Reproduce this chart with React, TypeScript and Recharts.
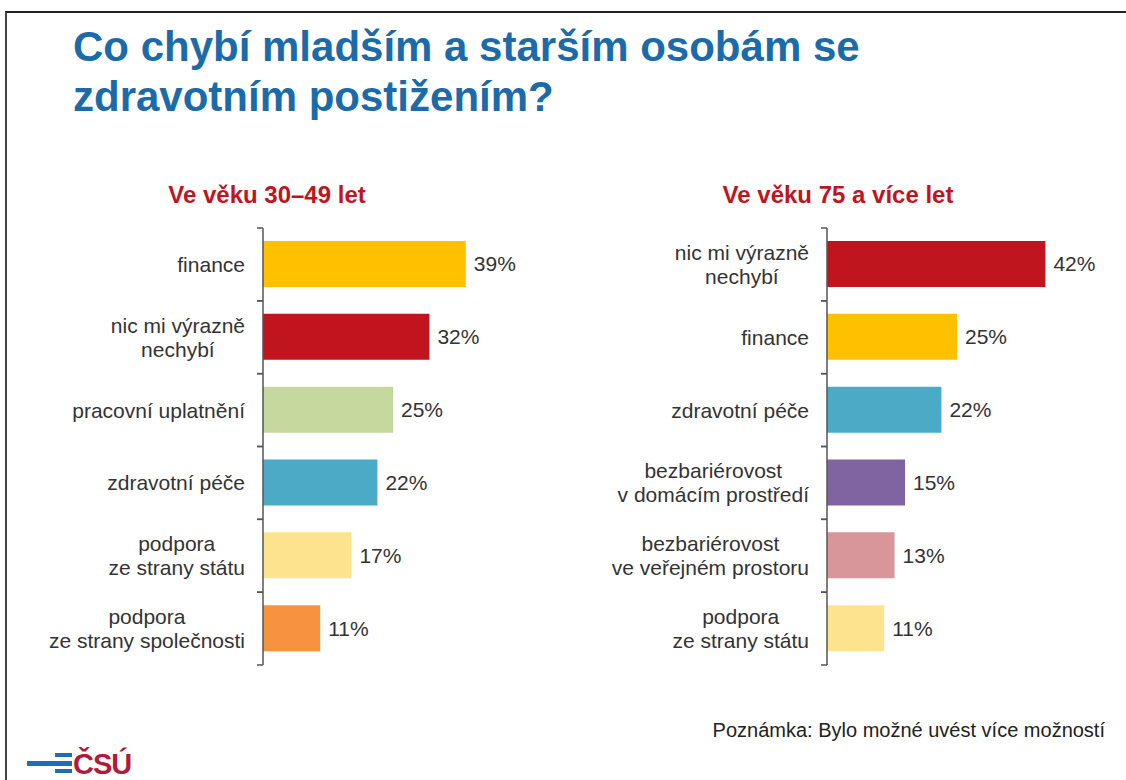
import React from "react";
import { BarChart, Bar, XAxis, YAxis, Cell, LabelList } from "recharts";

// Ve věku 30–49 let
const leftCategories = [
  "finance",
  "nic mi výrazně\nnechybí",
  "pracovní uplatnění",
  "zdravotní péče",
  "podpora\nze strany státu",
  "podpora\nze strany společnosti",
];
const leftValues = [39, 32, 25, 22, 17, 11];
const leftColors = ["#FFC000", "#C0151F", "#C5D89E", "#4BABC7", "#FEE38F", "#F7923F"];

// Ve věku 75 a více let
const rightCategories = [
  "nic mi výrazně\nnechybí",
  "finance",
  "zdravotní péče",
  "bezbariérovost\nv domácím prostředí",
  "bezbariérovost\nve veřejném prostoru",
  "podpora\nze strany státu",
];
const rightValues = [42, 25, 22, 15, 13, 11];
const rightColors = ["#C0151F", "#FFC000", "#4BABC7", "#8064A2", "#D9969A", "#FEE38F"];

const FONT = "'Liberation Sans', Arial, Helvetica, sans-serif";
const LABEL_SIZE = 21;
const CHART_TOP = 226;
const CHART_H = 441;
const MARGIN_V = 2;
const BAND = (CHART_H - 2 * MARGIN_V) / 6;

let ctx: CanvasRenderingContext2D | null = null;
function textWidth(s: string) {
  if (!ctx) ctx = document.createElement("canvas").getContext("2d");
  if (!ctx) return s.length * LABEL_SIZE * 0.5;
  ctx.font = `${LABEL_SIZE}px 'Liberation Sans', Arial, sans-serif`;
  return ctx.measureText(s).width;
}

function CategoryTick(props: any) {
  const { x, y, payload } = props;
  const lines = String(payload.value).split("\n");
  const maxW = Math.max(...lines.map(textWidth));
  const cx = x - 18 - maxW / 2;
  return (
    <g>
      <line x1={x - 6} x2={x} y1={y - BAND / 2} y2={y - BAND / 2} stroke="#555" strokeWidth={1.5} />
      <line x1={x - 6} x2={x} y1={y + BAND / 2} y2={y + BAND / 2} stroke="#555" strokeWidth={1.5} />
      {lines.map((ln, i) => (
        <text
          key={i}
          x={cx}
          y={y + (i - (lines.length - 1) / 2) * 24}
          textAnchor="middle"
          dominantBaseline="central"
          fill="#333"
          fontSize={LABEL_SIZE}
          fontFamily={FONT}
        >
          {ln}
        </text>
      ))}
    </g>
  );
}

function Panel({
  categories,
  values,
  colors,
  left,
  width,
  axisW,
}: {
  categories: string[];
  values: number[];
  colors: string[];
  left: number;
  width: number;
  axisW: number;
}) {
  const data = categories.map((name, i) => ({ name, value: values[i] }));
  return (
    <div style={{ position: "absolute", left, top: CHART_TOP }}>
      <BarChart
        layout="vertical"
        width={width}
        height={CHART_H}
        data={data}
        margin={{ top: MARGIN_V, bottom: MARGIN_V, left: 0, right: width - axisW - 260 }}
      >
        <XAxis type="number" domain={[0, 50]} hide />
        <YAxis
          type="category"
          dataKey="name"
          width={axisW}
          axisLine={{ stroke: "#555", strokeWidth: 1.5 }}
          tickLine={false}
          tickSize={0}
          tickMargin={0}
          interval={0}
          tick={CategoryTick}
        />
        <Bar dataKey="value" barSize={46} isAnimationActive={false}>
          {data.map((_, i) => (
            <Cell key={i} fill={colors[i]} />
          ))}
          <LabelList
            dataKey="value"
            position="right"
            offset={8}
            formatter={(v: any) => `${v}%`}
            fill="#333"
            fontSize={LABEL_SIZE}
            fontFamily={FONT}
          />
        </Bar>
      </BarChart>
    </div>
  );
}

export default function App() {
  return (
    <div
      style={{
        position: "absolute",
        left: 0,
        top: 0,
        width: 1126,
        height: 780,
        background: "#fff",
        overflow: "hidden",
        fontFamily: FONT,
      }}
    >
      {/* frame */}
      <div
        style={{
          position: "absolute",
          left: 5,
          top: 11,
          width: 1200,
          height: 900,
          borderTop: "2px solid #222",
          borderLeft: "2px solid #444",
        }}
      />

      <div
        style={{
          position: "absolute",
          left: 73,
          top: 22,
          fontSize: 42,
          lineHeight: "50px",
          fontWeight: 700,
          color: "#1B6BAA",
        }}
      >
        Co chybí mladším a starším osobám se
        <br />
        zdravotním postižením?
      </div>

      <div
        style={{
          position: "absolute",
          left: 267 - 200,
          width: 400,
          top: 181,
          textAlign: "center",
          fontSize: 24,
          lineHeight: "28px",
          fontWeight: 700,
          color: "#C0141E",
        }}
      >
        Ve věku 30–49 let
      </div>
      <div
        style={{
          position: "absolute",
          left: 838 - 200,
          width: 400,
          top: 181,
          textAlign: "center",
          fontSize: 24,
          lineHeight: "28px",
          fontWeight: 700,
          color: "#C0141E",
        }}
      >
        Ve věku 75 a více let
      </div>

      <Panel categories={leftCategories} values={leftValues} colors={leftColors} left={0} width={560} axisW={263} />
      <Panel categories={rightCategories} values={rightValues} colors={rightColors} left={560} width={566} axisW={267} />

      <div
        style={{
          position: "absolute",
          right: 21,
          top: 719,
          fontSize: 20,
          lineHeight: "22px",
          color: "#222",
          whiteSpace: "nowrap",
        }}
      >
        Poznámka: Bylo možné uvést více možností
      </div>

      {/* ČSÚ logo */}
      <div style={{ position: "absolute", left: 27, top: 761, width: 30, height: 5, background: "#1F6DB5" }} />
      <div style={{ position: "absolute", left: 55, top: 753, width: 17, height: 4, background: "#1F6DB5" }} />
      <div style={{ position: "absolute", left: 55, top: 761, width: 17, height: 5, background: "#1F6DB5" }} />
      <div style={{ position: "absolute", left: 55, top: 769, width: 17, height: 4, background: "#1F6DB5" }} />
      <div
        style={{
          position: "absolute",
          left: 73,
          top: 748,
          fontSize: 29,
          lineHeight: "32px",
          fontWeight: 700,
          color: "#B31A3A",
          letterSpacing: -1,
        }}
      >
        ČSÚ
      </div>
    </div>
  );
}
